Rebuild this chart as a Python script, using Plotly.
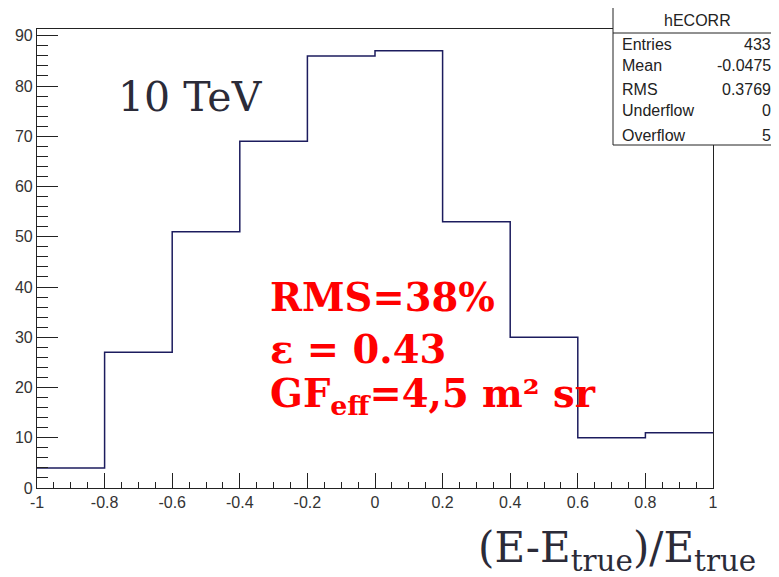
import plotly.graph_objects as go

# ---- data ----
bin_edges = [-1.0, -0.8, -0.6, -0.4, -0.2, 0.0, 0.2, 0.4, 0.6, 0.8, 1.0]
counts = [4, 27, 51, 69, 86, 87, 53, 30, 10, 11]
x_tick_vals = [-1, -0.8, -0.6, -0.4, -0.2, 0, 0.2, 0.4, 0.6, 0.8, 1]
x_tick_text = ["-1", "-0.8", "-0.6", "-0.4", "-0.2", "0", "0.2", "0.4", "0.6", "0.8", "1"]
y_tick_vals = [0, 10, 20, 30, 40, 50, 60, 70, 80, 90]
stats_labels = ["Entries", "Mean", "RMS", "Underflow", "Overflow"]
stats_values = ["433", "-0.0475", "0.3769", "0", "5"]
hist_name = "hECORR"
energy_label = "10 TeV"
result_lines = ["RMS=38%", "\u03b5 = 0.43", "GF<sub>eff</sub>=4,5 m\u00b2 sr"]
x_title = "(E-E<sub>true</sub>)/E<sub>true</sub>"

# page offset of the plot div (default body margin)
OFF = 8
PAGE_W, PAGE_H = 779, 577
W, H = PAGE_W - OFF, PAGE_H - OFF
# plot area in page pixels: x 37..713, y 29..488
L, T = 37 - OFF, 29 - OFF
R = W - (713 - OFF)
B = H - (488 - OFF)
PW, PH = W - L - R, H - T - B


def px(x):
    return (x - OFF - L) / PW


def py(y):
    return (H - B - (y - OFF)) / PH


fig = go.Figure()
fig.add_trace(go.Scatter(
    x=bin_edges, y=counts + [counts[-1]],
    mode="lines", line=dict(shape="hv", color="#1c1c5e", width=1.5),
    hoverinfo="skip", showlegend=False,
))

tickfont = dict(family="Liberation Sans, Arial, sans-serif", size=16, color="#333333")

fig.update_layout(
    width=W, height=H,
    margin=dict(l=L, r=R, t=T, b=B, pad=0),
    paper_bgcolor="white", plot_bgcolor="white",
    showlegend=False,
    xaxis=dict(
        range=[-1, 1], tickvals=x_tick_vals, ticktext=x_tick_text,
        ticks="inside", ticklen=15, tickwidth=1, tickcolor="#222",
        minor=dict(dtick=0.05, tick0=-1, ticks="inside", ticklen=6, tickcolor="#222", showgrid=False),
        showline=True, mirror=True, linecolor="#222", linewidth=1.2,
        showgrid=False, zeroline=False, tickfont=tickfont, automargin=False,
    ),
    yaxis=dict(
        range=[0, 91.35], tickvals=y_tick_vals,
        ticks="inside", ticklen=21, tickwidth=1, tickcolor="#222",
        minor=dict(dtick=2, tick0=0, ticks="inside", ticklen=11, tickcolor="#222", showgrid=False),
        showline=True, mirror=True, linecolor="#222", linewidth=1.2,
        showgrid=False, zeroline=False, tickfont=tickfont, automargin=False,
    ),
)

# stats box
bx0, bx1, by0, by1, bhead = 613, 778, 6, 145, 33
fig.add_shape(type="rect", xref="paper", yref="paper",
              x0=px(bx0), x1=px(bx1), y0=py(by1), y1=py(by0),
              fillcolor="white", line=dict(color="#222", width=1), layer="above")
fig.add_shape(type="line", xref="paper", yref="paper",
              x0=px(bx0), x1=px(bx1), y0=py(bhead), y1=py(bhead),
              line=dict(color="#222", width=1), layer="above")
statfont = dict(family="Liberation Sans, Arial, sans-serif", size=16, color="#222")
fig.add_annotation(xref="paper", yref="paper", x=px(697), y=py(20), text=hist_name,
                   showarrow=False, xanchor="center", yanchor="middle", font=statfont)
row_y = [44, 66, 89, 111, 135]
for lab, val, yy in zip(stats_labels, stats_values, row_y):
    fig.add_annotation(xref="paper", yref="paper", x=px(620), y=py(yy), text=lab,
                       showarrow=False, xanchor="left", yanchor="middle", font=statfont)
    fig.add_annotation(xref="paper", yref="paper", x=px(773), y=py(yy), text=val,
                       showarrow=False, xanchor="right", yanchor="middle", font=statfont)

# energy label
fig.add_annotation(xref="paper", yref="paper", x=px(116), y=py(97), text=energy_label,
                   showarrow=False, xanchor="left", yanchor="middle",
                   font=dict(family="DejaVu Serif, serif", size=41, color="#2b2b38"))

# red result text
redfont = dict(family="DejaVu Serif, serif", size=38.5, color="#ff0000")
for txt, yy in zip(result_lines, [297, 349, 396]):
    fig.add_annotation(xref="paper", yref="paper", x=px(268), y=py(yy),
                       text="<b>" + txt + "</b>", showarrow=False,
                       xanchor="left", yanchor="middle", font=redfont)

# x axis title
fig.add_annotation(xref="paper", yref="paper", x=px(476), y=py(550), text=x_title,
                   showarrow=False, xanchor="left", yanchor="middle",
                   font=dict(family="DejaVu Serif, serif", size=42, color="#2b2b38"))

fig.write_html("out.html")
